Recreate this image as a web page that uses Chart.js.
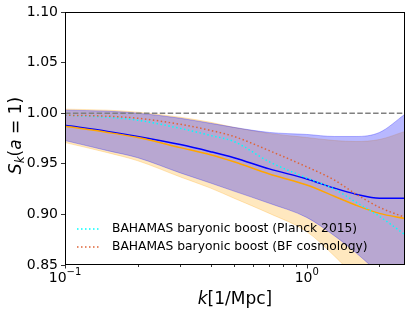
<!DOCTYPE html>
<html>
<head>
<meta charset="utf-8">
<script src="https://cdn.jsdelivr.net/npm/chart.js@4.4.0/dist/chart.umd.min.js"></script>
<style>
html, body { margin: 0; padding: 0; background: #fff; }
</style>
</head>
<body>
<canvas id="graficaSk" width="412" height="314"></canvas>
<script>
// valores
var kValores = [0.1, 0.15, 0.2, 0.3, 0.4, 0.5, 0.7, 1.0, 1.3, 1.6, 2.0, 2.55];

var azulMedia = [0.988, 0.982, 0.977, 0.969, 0.962, 0.956, 0.945, 0.935, 0.926, 0.920, 0.916, 0.916];
var azulArriba = [1.003, 1.002, 1.000, 0.995, 0.990, 0.986, 0.981, 0.979, 0.977, 0.977, 0.981, 0.999];
var azulAbajo = [0.973, 0.963, 0.956, 0.941, 0.931, 0.923, 0.911, 0.897, 0.879, 0.862, 0.840, 0.805];

var naranjaMedia = [0.987, 0.981, 0.976, 0.966, 0.959, 0.952, 0.940, 0.929, 0.918, 0.909, 0.901, 0.896];
var naranjaArriba = [1.004, 1.003, 1.001, 0.996, 0.991, 0.986, 0.980, 0.976, 0.973, 0.972, 0.974, 0.982];
var naranjaAbajo = [0.971, 0.961, 0.953, 0.937, 0.926, 0.916, 0.901, 0.883, 0.859, 0.837, 0.812, 0.775];

var bahamasPlanck = [0.998, 0.996, 0.993, 0.985, 0.978, 0.972, 0.952, 0.936, 0.925, 0.912, 0.898, 0.880];
var bahamasBF = [0.998, 0.997, 0.995, 0.989, 0.983, 0.977, 0.963, 0.947, 0.934, 0.920, 0.907, 0.897];

var referencia = [1.0, 1.0];
var kReferencia = [0.1, 2.55];

var yTicks = [0.85, 0.90, 0.95, 1.00, 1.05, 1.10];
var etiquetasLeyenda = ["BAHAMAS baryonic boost (Planck 2015)", "BAHAMAS baryonic boost (BF cosmology)"];

var fuente = "DejaVu Sans";

function puntos(xs, ys) {
    return xs.map(function (k, i) { return { x: k, y: ys[i] }; });
}

function banda(datos, color, borde, orden, relleno) {
    return {
        data: puntos(kValores, datos),
        borderColor: borde,
        backgroundColor: color,
        borderWidth: 1,
        pointRadius: 0,
        fill: relleno,
        order: orden,
        cubicInterpolationMode: "monotone"
    };
}

function linea(xs, datos, color, dash) {
    return {
        data: puntos(xs, datos),
        borderColor: color,
        borderWidth: 1.5,
        borderDash: dash,
        pointRadius: 0,
        fill: false,
        order: 0,
        cubicInterpolationMode: "monotone"
    };
}

var colorNaranja = "rgba(255,165,0,0.25)";
var colorAzul = "rgba(0,0,255,0.28)";

// ticks del eje x, marco, leyenda y titulos
var extras = {
    id: "extras",
    afterDraw: function (chart) {
        var c = chart.ctx;
        var area = chart.chartArea;
        var sx = chart.scales.x;
        c.save();
        c.strokeStyle = "#000";
        c.lineWidth = 0.8;
        // ticks x
        var mayores = [0.1, 1];
        var menores = [0.2, 0.3, 0.4, 0.5, 0.6, 0.7, 0.8, 0.9, 2];
        mayores.forEach(function (v) {
            var px = Math.round(sx.getPixelForValue(v)) + 0.5;
            c.beginPath(); c.moveTo(px, area.bottom); c.lineTo(px, area.bottom + 3.5); c.stroke();
        });
        menores.forEach(function (v) {
            var px = Math.round(sx.getPixelForValue(v)) + 0.5;
            c.beginPath(); c.moveTo(px, area.bottom); c.lineTo(px, area.bottom + 2); c.stroke();
        });
        // etiquetas x con exponente
        c.fillStyle = "#000";
        c.textBaseline = "alphabetic";
        [[0.1, "\u22121"], [1, "0"]].forEach(function (t) {
            var px = sx.getPixelForValue(t[0]);
            c.font = "14px '" + fuente + "'";
            var wb = c.measureText("10").width;
            c.font = "10px '" + fuente + "'";
            var we = c.measureText(t[1]).width;
            var x0 = px - (wb + we) / 2;
            c.font = "14px '" + fuente + "'";
            c.textAlign = "left";
            c.fillText("10", x0, 282);
            c.font = "10px '" + fuente + "'";
            c.fillText(t[1], x0 + wb, 275);
        });
        // marco
        c.lineWidth = 1;
        c.strokeRect(area.left + 0.5, area.top + 0.5, area.right - area.left - 1, area.bottom - area.top - 1);

        // leyenda
        var colores = ["cyan", "rgb(222,100,55)"];
        var ys = [229, 247];
        etiquetasLeyenda.forEach(function (txt, i) {
            c.strokeStyle = colores[i];
            c.lineWidth = 1.5;
            c.setLineDash([1.5, 2.5]);
            c.beginPath(); c.moveTo(77, ys[i]); c.lineTo(101, ys[i]); c.stroke();
            c.setLineDash([]);
            c.fillStyle = "#000";
            c.font = "12.3px '" + fuente + "'";
            c.textAlign = "left";
            c.textBaseline = "middle";
            c.fillText(txt, 112, ys[i]);
        });

        // titulo x
        c.textBaseline = "alphabetic";
        var partesX = [["italic 17px '" + fuente + "'", "k"], ["17px '" + fuente + "'", "[1/Mpc]"]];
        var total = 0;
        partesX.forEach(function (p) { c.font = p[0]; total += c.measureText(p[1]).width; });
        var xx = (area.left + area.right) / 2 - total / 2;
        partesX.forEach(function (p) { c.font = p[0]; c.fillText(p[1], xx, 304); xx += c.measureText(p[1]).width; });

        // titulo y
        c.translate(21, (area.top + area.bottom) / 2 - 3);
        c.rotate(-Math.PI / 2);
        var partesY = [
            ["italic 17px '" + fuente + "'", "S", 0],
            ["italic 12px '" + fuente + "'", "k", 3],
            ["17px '" + fuente + "'", "(", 0],
            ["italic 17px '" + fuente + "'", "a", 0],
            ["17px '" + fuente + "'", " = 1)", 0]
        ];
        total = 0;
        partesY.forEach(function (p) { c.font = p[0]; total += c.measureText(p[1]).width; });
        xx = -total / 2;
        partesY.forEach(function (p) { c.font = p[0]; c.fillText(p[1], xx, p[2]); xx += c.measureText(p[1]).width; });
        c.restore();
    }
};

var ctx = document.getElementById("graficaSk").getContext("2d");
var chart = new Chart(ctx, {
    type: "line",
    data: {
        datasets: [
            banda(naranjaArriba, colorNaranja, colorNaranja, 2, "+1"),
            banda(naranjaAbajo, colorNaranja, colorNaranja, 2, false),
            banda(azulArriba, colorAzul, colorAzul, 1, "+1"),
            banda(azulAbajo, colorAzul, colorAzul, 1, false),
            linea(kReferencia, referencia, "gray", [5.5, 2.4]),
            linea(kValores, bahamasBF, "rgb(222,100,55)", [1.5, 2.5]),
            linea(kValores, bahamasPlanck, "cyan", [1.5, 2.5]),
            linea(kValores, naranjaMedia, "orange", []),
            linea(kValores, azulMedia, "blue", [])
        ]
    },
    options: {
        responsive: false,
        animation: false,
        devicePixelRatio: 1,
        layout: { padding: { top: 12, right: 7, left: 0, bottom: 0 } },
        plugins: { legend: { display: false }, tooltip: { enabled: false } },
        scales: {
            x: {
                type: "logarithmic",
                min: 0.1,
                max: 2.55,
                afterFit: function (s) { s.height = 49; },
                grid: { display: false, drawTicks: false },
                border: { display: false },
                ticks: { display: false }
            },
            y: {
                min: 0.85,
                max: 1.10,
                afterFit: function (s) { s.width = 65; },
                afterBuildTicks: function (s) { s.ticks = yTicks.map(function (v) { return { value: v }; }); },
                grid: { drawOnChartArea: false, tickLength: 4, color: "#000", lineWidth: 0.8 },
                border: { display: false },
                ticks: {
                    padding: 3,
                    color: "#000",
                    font: { family: fuente, size: 14 },
                    callback: function (v) { return Number(v).toFixed(2); }
                }
            }
        }
    },
    plugins: [extras]
});
</script>
</body>
</html>
